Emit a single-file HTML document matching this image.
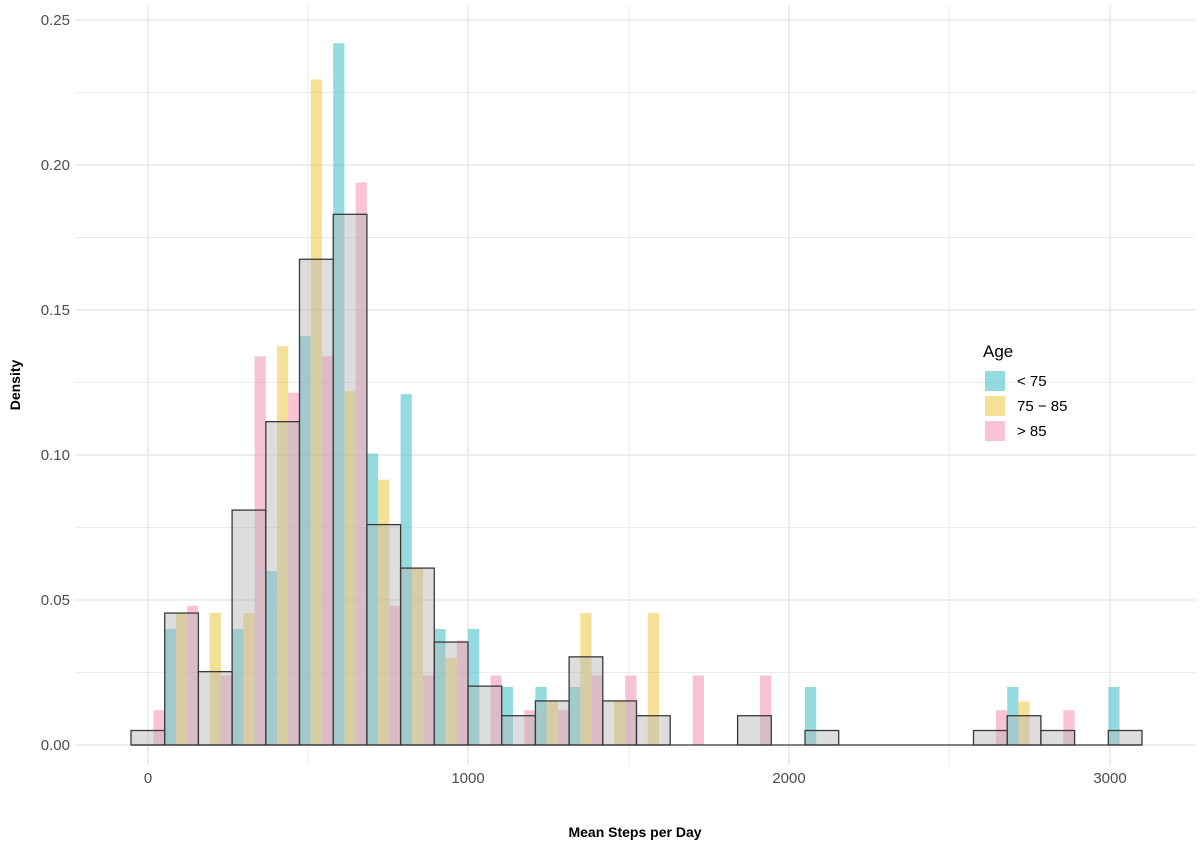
<!DOCTYPE html>
<html><head><meta charset="utf-8"><style>body{margin:0;background:#fff}svg{display:block;font-family:"Liberation Sans",Arial,sans-serif}</style></head>
<body>
<svg id="s" width="1200" height="849" xmlns="http://www.w3.org/2000/svg">
<g stroke="#ebebeb" stroke-width="1">
<line x1="75" x2="1195" y1="672.5" y2="672.5"/><line x1="75" x2="1195" y1="527.5" y2="527.5"/><line x1="75" x2="1195" y1="382.5" y2="382.5"/><line x1="75" x2="1195" y1="237.5" y2="237.5"/><line x1="75" x2="1195" y1="92.5" y2="92.5"/>
<line y1="5" y2="765" x1="308" x2="308"/><line y1="5" y2="765" x1="629" x2="629"/><line y1="5" y2="765" x1="949" x2="949"/>
</g>
<g stroke="#e3e3e3" stroke-width="1.3">
<line x1="75" x2="1195" y1="745" y2="745"/><line x1="75" x2="1195" y1="600" y2="600"/><line x1="75" x2="1195" y1="455" y2="455"/><line x1="75" x2="1195" y1="310" y2="310"/><line x1="75" x2="1195" y1="165" y2="165"/><line x1="75" x2="1195" y1="20" y2="20"/>
<line y1="5" y2="765" x1="148" x2="148"/><line y1="5" y2="765" x1="468" x2="468"/><line y1="5" y2="765" x1="789" x2="789"/><line y1="5" y2="765" x1="1110" x2="1110"/>
</g>
<g id="bars"></g>
<g fill="#4d4d4d" font-size="15" text-anchor="end">
<text x="70" y="750">0.00</text><text x="70" y="605">0.05</text><text x="70" y="460">0.10</text><text x="70" y="315">0.15</text><text x="70" y="170">0.20</text><text x="70" y="25">0.25</text>
</g>
<g fill="#4d4d4d" font-size="15" text-anchor="middle">
<text x="148" y="783">0</text><text x="468" y="783">1000</text><text x="789" y="783">2000</text><text x="1110" y="783">3000</text>
</g>
<text x="635" y="837" font-size="14" font-weight="bold" text-anchor="middle">Mean Steps per Day</text>
<text transform="translate(20,385) rotate(-90)" font-size="14" font-weight="bold" text-anchor="middle">Density</text>
<text x="983" y="357" font-size="17">Age</text>
<rect x="985" y="371" width="20" height="20" fill="#5bc8d0" opacity="0.65"/>
<rect x="985" y="396" width="20" height="20" fill="#ebc840" opacity="0.55"/>
<rect x="985" y="421" width="20" height="20" fill="#f291b5" opacity="0.55"/>
<g font-size="15" fill="#000"><text x="1017" y="386">&lt; 75</text><text x="1017" y="411">75 − 85</text><text x="1017" y="436">&gt; 85</text></g>
</svg>
<script>
const g=document.getElementById('bars');
const X0=131,W=33.7,Y0=745,K=2900;
const gray={0:.005,1:.0455,2:.0253,3:.081,4:.1115,5:.1675,6:.183,7:.076,8:.061,9:.0355,10:.0203,11:.0101,12:.0152,13:.0304,14:.0152,15:.0101,18:.0101,20:.005,25:.005,26:.0101,27:.005,29:.005};
const t={1:.04,3:.04,4:.06,5:.141,6:.242,7:.1005,8:.121,9:.04,10:.04,11:.02,12:.02,13:.02,20:.02,26:.02,29:.02};
const y={1:.0455,2:.0455,3:.0455,4:.1375,5:.2295,6:.122,7:.0915,8:.061,9:.03,12:.015,13:.0455,14:.015,15:.0455,26:.015};
const p={0:.012,1:.048,2:.024,3:.134,4:.1215,5:.134,6:.194,7:.048,8:.024,9:.036,10:.024,11:.012,12:.012,13:.024,14:.024,16:.024,18:.024,25:.012,27:.012};
let h='';
function add(o,off,c,op){for(const k in o){const x=X0+W*k+off*W/3,hh=o[k]*K;h+=`<rect x="${x}" y="${Y0-hh}" width="${W/3}" height="${hh}" fill="${c}" opacity="${op}"/>`}}
add(t,0,'#5bc8d0',.65);add(y,1,'#ebc840',.55);add(p,2,'#f291b5',.55);
for(const k in gray){const x=X0+W*k,hh=gray[k]*K;h+=`<rect x="${x}" y="${Y0-hh}" width="${W}" height="${hh}" fill="#b4b4b4" fill-opacity="0.45" stroke="#3a3a3a" stroke-width="1.3"/>`}
h+=`<line x1="${X0}" x2="${X0+30*W}" y1="745" y2="745" stroke="#3a3a3a" stroke-width="1.3"/>`;
g.innerHTML=h;
</script>
</body></html>
